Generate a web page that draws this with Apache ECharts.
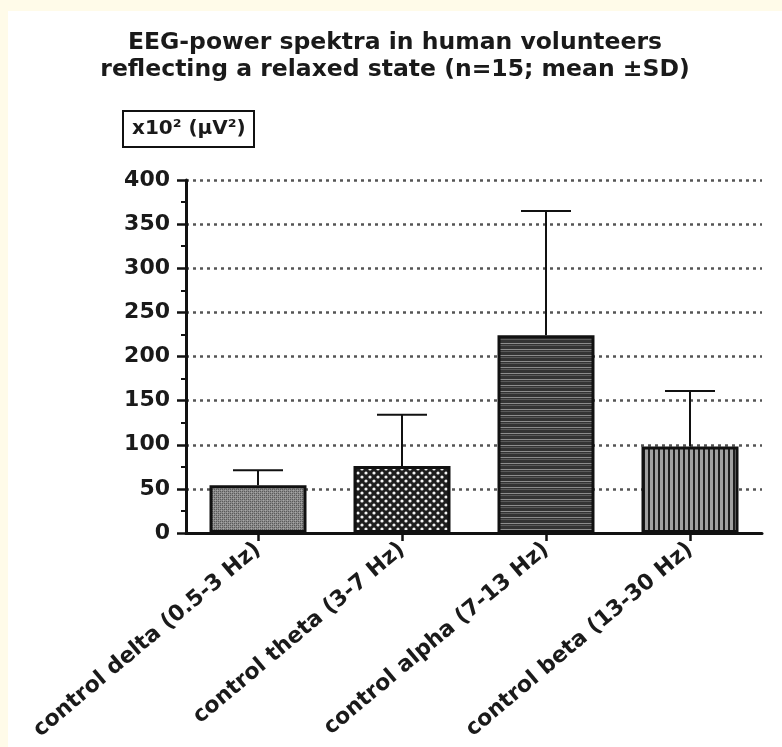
<!DOCTYPE html>
<html>
<head>
<meta charset="utf-8">
<script src="https://cdn.jsdelivr.net/npm/echarts@6/dist/echarts.min.js"></script>
<style>
  html, body { margin: 0; padding: 0; background: #fffbe9; width: 782px; height: 747px; overflow: hidden; }
  #chart { position: absolute; left: 8px; top: 11px; width: 774px; height: 736px; background: #ffffff; }
</style>
</head>
<body>
<div id="chart"></div>
<script>
// ---- data ----
const categories = ['control delta (0.5-3 Hz)', 'control theta (3-7 Hz)', 'control alpha (7-13 Hz)', 'control beta (13-30 Hz)'];
const meanValues = [54, 76, 224, 98];
const sdValues = [17, 58, 141, 63];
const yTicks = [0, 50, 100, 150, 200, 250, 300, 350, 400];
const titleLines = ['EEG-power spektra in human volunteers', 'reflecting a relaxed state (n=15; mean ±SD)'];
const unitLabel = 'x10² (μV²)';

// ---- patterns ----
function makePattern(w, h, draw) {
  const c = document.createElement('canvas');
  c.width = w; c.height = h;
  const ctx = c.getContext('2d');
  draw(ctx, w, h);
  return { image: c, repeat: 'repeat' };
}
const patterns = [
  makePattern(4, 4, (ctx) => {
    ctx.fillStyle = '#8a8a8a'; ctx.fillRect(0, 0, 4, 4);
    ctx.fillStyle = '#5a5a5a';
    ctx.fillRect(0, 0, 1, 1); ctx.fillRect(2, 2, 1, 1); ctx.fillRect(2, 0, 1, 1); ctx.fillRect(0, 2, 1, 1);
    ctx.fillStyle = '#a8a8a8'; ctx.fillRect(1, 3, 1, 1); ctx.fillRect(3, 1, 1, 1);
  }),
  makePattern(8, 8, (ctx) => {
    ctx.fillStyle = '#1e1e1e'; ctx.fillRect(0, 0, 8, 8);
    ctx.fillStyle = '#f4f4f4';
    ctx.beginPath(); ctx.arc(2, 2, 1.6, 0, Math.PI * 2); ctx.fill();
    ctx.beginPath(); ctx.arc(6, 6, 1.6, 0, Math.PI * 2); ctx.fill();
  }),
  makePattern(4, 6, (ctx) => {
    ctx.fillStyle = '#333333'; ctx.fillRect(0, 0, 4, 6);
    ctx.fillStyle = '#8c8c8c'; ctx.fillRect(0, 2, 4, 1);
    ctx.fillStyle = '#5a5a5a'; ctx.fillRect(0, 4, 4, 1);
  }),
  makePattern(5, 4, (ctx) => {
    ctx.fillStyle = '#a0a0a0'; ctx.fillRect(0, 0, 5, 4);
    ctx.fillStyle = '#1e1e1e'; ctx.fillRect(0, 0, 2, 4);
  })
];

const chart = echarts.init(document.getElementById('chart'), null, { renderer: 'canvas' });

const fontFam = '"DejaVu Sans", "Liberation Sans", Arial, sans-serif';

const option = {
  backgroundColor: '#ffffff',
  animation: false,
  title: [
    {
      text: titleLines.join('\n'),
      left: 'center',
      top: 18,
      padding: 0,
      textStyle: { fontFamily: fontFam, fontWeight: 'bold', fontSize: 23.5, lineHeight: 27, color: '#1a1a1a', align: 'center' }
    },
    {
      text: unitLabel,
      left: 115,
      top: 100,
      padding: [8, 9, 8, 9],
      borderColor: '#111',
      borderWidth: 2,
      textStyle: { fontFamily: fontFam, fontWeight: 'bold', fontSize: 20, color: '#1a1a1a' }
    }
  ],
  grid: { left: 178, right: 20, top: 169, bottom: 214, containLabel: false },
  xAxis: {
    type: 'category',
    data: categories,
    axisLine: { lineStyle: { color: '#111', width: 3 } },
    axisTick: { show: true, alignWithLabel: true, length: 8, lineStyle: { color: '#111', width: 2.5 } },
    axisLabel: {
      rotate: 40, margin: 14, interval: 0,
      fontFamily: fontFam, fontWeight: 'bold', fontSize: 22, color: '#1a1a1a'
    }
  },
  yAxis: {
    type: 'value',
    min: 0, max: 400, interval: 50,
    axisLine: { show: true, lineStyle: { color: '#111', width: 3 } },
    axisTick: { show: true, length: 9, lineStyle: { color: '#111', width: 2.5 } },
    minorTick: { show: true, splitNumber: 2, length: 5, lineStyle: { color: '#111', width: 2 } },
    axisLabel: {
      margin: 16, fontFamily: fontFam, fontWeight: 'bold', fontSize: 22, color: '#1a1a1a',
      formatter: (v) => (yTicks.indexOf(v) >= 0 ? String(v) : '')
    },
    splitLine: { show: true, lineStyle: { color: '#555', width: 2.5, type: [3, 4] } }
  },
  series: [
    {
      type: 'bar',
      barWidth: 97,
      data: meanValues.map((v, i) => ({
        value: v,
        itemStyle: { color: patterns[i], borderColor: '#111', borderWidth: 3 }
      })),
      z: 3
    },
    {
      type: 'custom',
      z: 4,
      data: meanValues.map((v, i) => [i, v, v + sdValues[i]]),
      renderItem: function (params, api) {
        const x = api.coord([api.value(0), 0])[0];
        const yMean = api.coord([api.value(0), api.value(1)])[1];
        const yTop = api.coord([api.value(0), api.value(2)])[1];
        const half = 25;
        const style = { stroke: '#111', lineWidth: 2 };
        return {
          type: 'group',
          children: [
            { type: 'line', shape: { x1: x, y1: yMean, x2: x, y2: yTop }, style: style },
            { type: 'line', shape: { x1: x - half, y1: yTop, x2: x + half, y2: yTop }, style: style }
          ]
        };
      }
    }
  ]
};
chart.setOption(option);
</script>
</body>
</html>
